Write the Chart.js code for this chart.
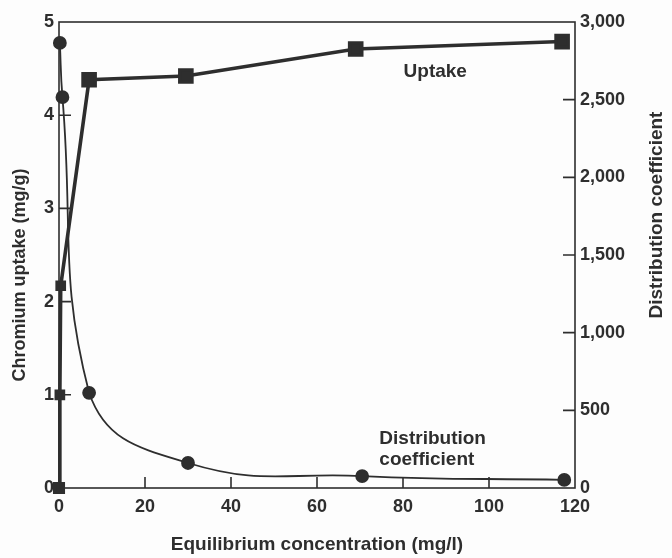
<!DOCTYPE html>
<html>
<head>
<meta charset="utf-8">
<script src="https://cdn.jsdelivr.net/npm/chart.js@4"></script>
<style>
  html, body { margin: 0; padding: 0; background: #fdfdfd; }
  canvas { display: block; }
</style>
</head>
<body>
<canvas id="chart" width="672" height="558"></canvas>
<script>
// equilibrium concentration (mg/l) and chromium uptake (mg/g)
const uptakeX = [0, 0.2, 0.4, 7, 29.5, 69, 117]
const uptakeY = [0, 1, 2.17, 4.38, 4.42, 4.71, 4.79]

// distribution coefficient (right axis)
const distX = [0.2, 0.8, 7, 30, 70.5, 117.5]
const distY = [2865, 2516, 613, 161, 77, 52]

const xTicks = [0, 20, 40, 60, 80, 100, 120]
const leftTicks = [0, 1, 2, 3, 4, 5]
const rightTicks = [0, 500, 1000, 1500, 2000, 2500, 3000]

const ink = '#2e2e2e'
const boldFont = size => ({ family: 'Liberation Sans, Arial, sans-serif', weight: 'bold', size: size })

// inward tick marks, frame and the text labels inside the plot
const decorations = {
    id: 'decorations',
    afterDraw(chart) {
        const { ctx, chartArea: a, scales } = chart
        ctx.save()
        ctx.strokeStyle = ink
        ctx.lineWidth = 1.6
        ctx.strokeRect(a.left, a.top, a.right - a.left, a.bottom - a.top)

        ctx.beginPath()
        xTicks.slice(1, -1).forEach(v => {
            const px = scales.x.getPixelForValue(v)
            ctx.moveTo(px, a.bottom)
            ctx.lineTo(px, a.bottom - 11)
        })
        leftTicks.slice(1, -1).forEach(v => {
            const py = scales.y.getPixelForValue(v)
            ctx.moveTo(a.left, py)
            ctx.lineTo(a.left + 12, py)
        })
        rightTicks.slice(1, -1).forEach(v => {
            const py = scales.y2.getPixelForValue(v)
            ctx.moveTo(a.right, py)
            ctx.lineTo(a.right - 12, py)
        })
        ctx.stroke()

        ctx.fillStyle = ink
        ctx.font = 'bold 19px "Liberation Sans", Arial, sans-serif'
        ctx.textBaseline = 'middle'
        ctx.textAlign = 'center'
        ctx.fillText('Uptake', scales.x.getPixelForValue(87.5), scales.y.getPixelForValue(4.47))
        ctx.textAlign = 'left'
        ctx.fillText('Distribution', scales.x.getPixelForValue(74.5), scales.y.getPixelForValue(0.53))
        ctx.fillText('coefficient', scales.x.getPixelForValue(74.5), scales.y.getPixelForValue(0.3))

        // axis titles, both read bottom-to-top
        ctx.textAlign = 'center'
        ctx.save()
        ctx.translate(657, 215)
        ctx.rotate(-Math.PI / 2)
        ctx.fillText('Distribution coefficient', 0, 0)
        ctx.restore()
        ctx.font = 'bold 18px "Liberation Sans", Arial, sans-serif'
        ctx.translate(20, 275)
        ctx.rotate(-Math.PI / 2)
        ctx.fillText('Chromium uptake (mg/g)', 0, 0)
        ctx.restore()
    },
}

new Chart(document.getElementById('chart').getContext('2d'), {
    type: 'line',
    data: {
        datasets: [
            {
                label: 'Uptake',
                data: uptakeX.map((x, i) => ({ x: x, y: uptakeY[i] })),
                yAxisID: 'y',
                borderColor: ink,
                backgroundColor: ink,
                borderWidth: 3.6,
                pointStyle: 'rect',
                pointRadius: [6, 5, 5, 8.5, 8.5, 8.5, 8.5],
                tension: 0,
                clip: false,
            },
            {
                label: 'Distribution coefficient',
                data: distX.map((x, i) => ({ x: x, y: distY[i] })),
                yAxisID: 'y2',
                borderColor: ink,
                backgroundColor: ink,
                borderWidth: 1.8,
                pointStyle: 'circle',
                pointRadius: 6,
                tension: 0.45,
                clip: false,
            },
        ],
    },
    options: {
        responsive: false,
        animation: false,
        devicePixelRatio: 1,
        layout: { padding: { top: 22, left: 0, right: 0, bottom: 0 } },
        plugins: { legend: { display: false }, tooltip: { enabled: false } },
        scales: {
            x: {
                type: 'linear',
                min: 0,
                max: 120,
                afterBuildTicks: s => { s.ticks = xTicks.map(v => ({ value: v })) },
                afterFit: s => { s.height = 70 },
                grid: { display: false, drawTicks: false },
                border: { display: false },
                ticks: { color: ink, font: boldFont(18), padding: 8 },
                title: {
                    display: true,
                    text: 'Equilibrium concentration (mg/l)',
                    color: ink,
                    font: boldFont(19),
                    padding: { top: 0, bottom: 2 },
                },
            },
            y: {
                position: 'left',
                min: 0,
                max: 5,
                afterBuildTicks: s => { s.ticks = leftTicks.map(v => ({ value: v })) },
                afterFit: s => { s.width = 59 },
                grid: { display: false, drawTicks: false },
                border: { display: false },
                ticks: { color: ink, font: boldFont(18), padding: 5 },
            },
            y2: {
                position: 'right',
                min: 0,
                max: 3000,
                afterBuildTicks: s => { s.ticks = rightTicks.map(v => ({ value: v })) },
                afterFit: s => { s.width = 97 },
                grid: { display: false, drawTicks: false },
                border: { display: false },
                ticks: {
                    color: ink,
                    font: boldFont(18),
                    padding: 5,
                    callback: v => v.toLocaleString('en-US'),
                },
            },
        },
    },
    plugins: [decorations],
})
</script>
</body>
</html>
